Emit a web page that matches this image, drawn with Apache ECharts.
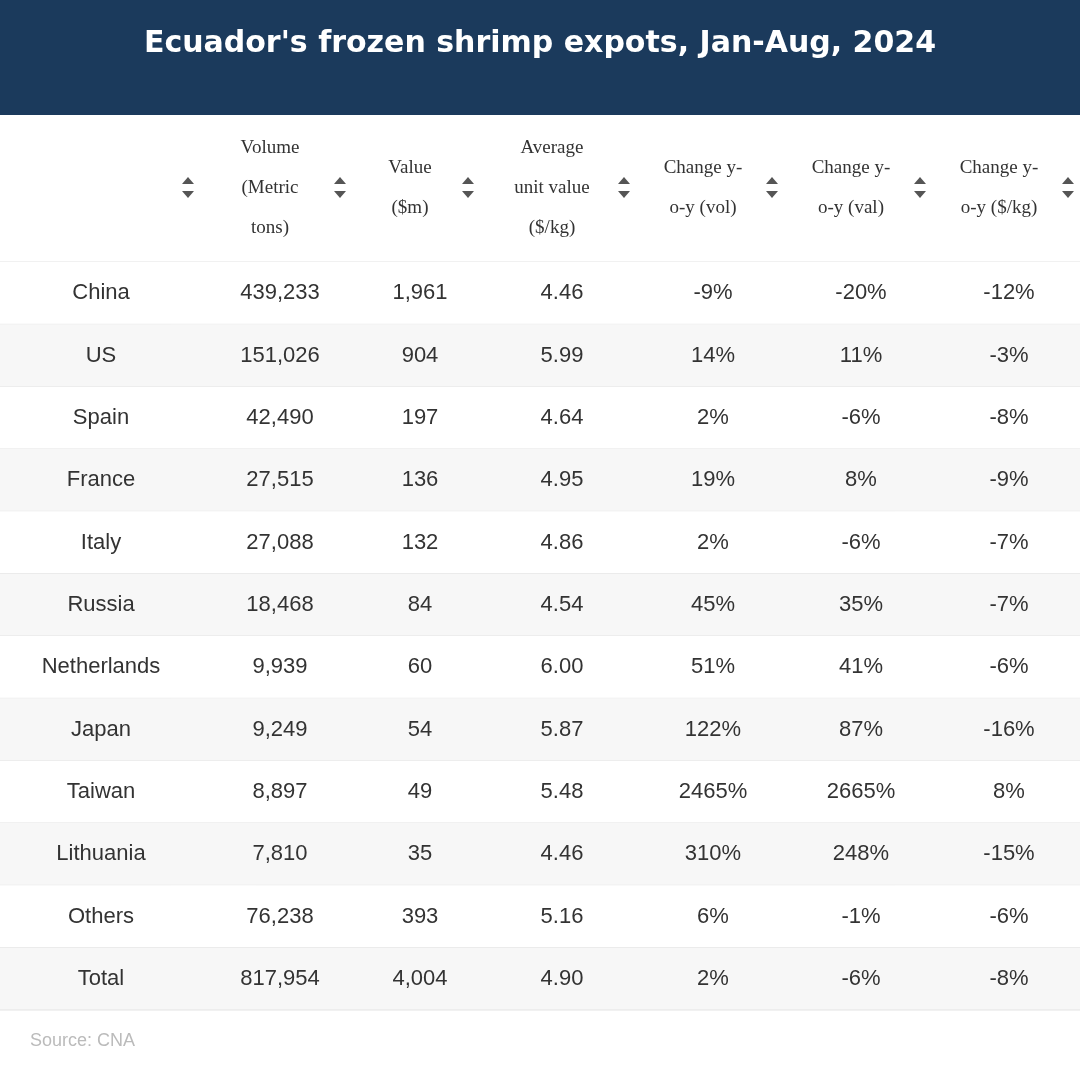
<!DOCTYPE html>
<html><head><meta charset="utf-8">
<script src="https://cdn.jsdelivr.net/npm/echarts@6/dist/echarts.min.js"></script>
<style>html,body{margin:0;padding:0;background:#fff}#c{width:1080px;height:1072px}</style>
</head><body><div id="c"></div>
<script>
const countries=["China","US","Spain","France","Italy","Russia","Netherlands","Japan","Taiwan","Lithuania","Others","Total"];
const volume=["439,233","151,026","42,490","27,515","27,088","18,468","9,939","9,249","8,897","7,810","76,238","817,954"];
const value=["1,961","904","197","136","132","84","60","54","49","35","393","4,004"];
const unitValue=["4.46","5.99","4.64","4.95","4.86","4.54","6.00","5.87","5.48","4.46","5.16","4.90"];
const chgVol=["-9%","14%","2%","19%","2%","45%","51%","122%","2465%","310%","6%","2%"];
const chgVal=["-20%","11%","-6%","8%","-6%","35%","41%","87%","2665%","248%","-1%","-6%"];
const chgUnit=["-12%","-3%","-8%","-9%","-7%","-7%","-6%","-16%","8%","-15%","-6%","-8%"];
const headers=["",["Volume","(Metric","tons)"],["Value","($m)"],["Average","unit value","($/kg)"],["Change y-","o-y (vol)"],["Change y-","o-y (val)"],["Change y-","o-y ($/kg)"]];
const colX=[101,280,420,562,713,861,1009];
const arrowX=[188,340,468,624,772,920,1068];
const cols=[countries,volume,value,unitValue,chgVol,chgVal,chgUnit];

const chart=echarts.init(document.getElementById('c'));
const graphics=[
 {type:'rect',shape:{x:0,y:0,width:1080,height:115},style:{fill:'#1b3a5c'}},
 {type:'text',style:{x:540,y:44,text:"Ecuador's frozen shrimp expots, Jan-Aug, 2024",fill:'#fff',font:'bold 30px "DejaVu Sans"',align:'center',verticalAlign:'middle'}},
 {type:'text',style:{x:30,y:1041,text:'Source: CNA',fill:'#bbbbbb',font:'18px "Liberation Sans"',verticalAlign:'middle'}},
 {type:'line',shape:{x1:0,y1:262,x2:1080,y2:262},style:{stroke:'#e3e3e3',lineWidth:1}}
];
headers.forEach((h,i)=>{
  if(h){const n=h.length;h.forEach((t,k)=>{graphics.push({type:'text',style:{x:colX[i]-10,y:188+(k-(n-1)/2)*40,text:t,fill:'#333',font:'19px "Liberation Serif"',align:'center',verticalAlign:'middle'}});});}
  const ax=arrowX[i];
  graphics.push({type:'polygon',shape:{points:[[ax-6,184],[ax+6,184],[ax,177]]},style:{fill:'#555'}});
  graphics.push({type:'polygon',shape:{points:[[ax-6,191],[ax+6,191],[ax,198]]},style:{fill:'#555'}});
});
chart.setOption({
 animation:false,
 grid:{left:0,right:0,top:262,height:748},
 xAxis:{type:'value',min:0,max:1080,show:false},
 yAxis:{type:'category',data:countries,inverse:true,show:false},
 graphic:graphics,
 series:[{type:'custom',data:countries.map((c,i)=>[0,i]),
  renderItem:(params,api)=>{
   const i=api.value(1);const p=api.coord([0,i]);const h=api.size([0,1])[1];
   const ch=[{type:'rect',shape:{x:0,y:p[1]-h/2,width:1080,height:h},style:{fill:i%2?'#f7f7f7':'#ffffff'}},
     {type:'line',shape:{x1:0,y1:p[1]+h/2,x2:1080,y2:p[1]+h/2},style:{stroke:'#e3e3e3',lineWidth:1}}];
   cols.forEach((col,j)=>{ch.push({type:'text',style:{x:colX[j],y:p[1],text:col[i],fill:'#333',font:'22px "Liberation Sans"',align:'center',verticalAlign:'middle'}});});
   return {type:'group',children:ch};
  }}]
});
</script></body></html>
